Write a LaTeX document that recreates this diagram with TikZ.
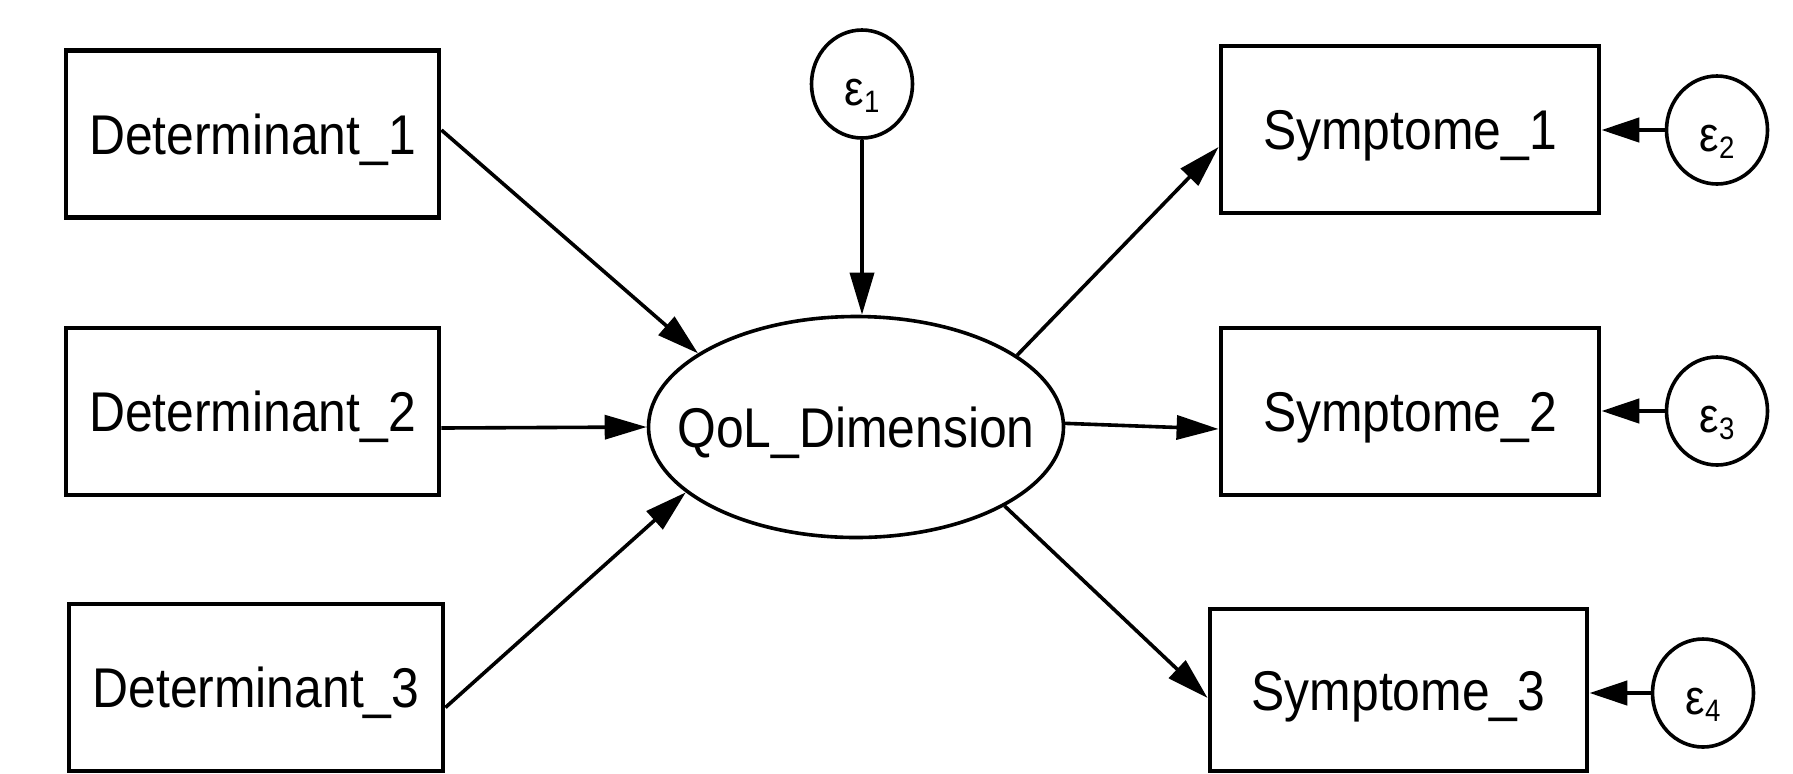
\documentclass[tikz,border=0pt]{standalone}
\usepackage{fontspec}
\setmainfont[FakeStretch=0.89]{Liberation Sans}
\usetikzlibrary{shapes.geometric,arrows.meta,calc}
\newcommand{\eps}[1]{ε\raisebox{-3.5pt}{\fontsize{15.5}{17}\selectfont #1}}
\begin{document}
\begin{tikzpicture}[x=0.5pt,y=-0.5pt,
  obs/.style={draw,line width=2.4pt,minimum width=186.5pt,minimum height=83.5pt,inner sep=0pt,
    font=\fontsize{28}{32}\selectfont,text height=20pt,text depth=0pt},
  lat/.style={draw,ellipse,line width=1.8pt,minimum width=207.5pt,minimum height=110.5pt,inner sep=0pt},
  lattext/.style={font=\fontsize{28}{32}\selectfont,text height=20pt,text depth=0pt,inner sep=0pt},
  err/.style={draw,ellipse,line width=1.8pt,minimum width=50.5pt,minimum height=54pt,inner sep=0pt,
    font=\fontsize{24.5}{26}\selectfont,text height=21pt,text depth=0pt},
  arr/.style={line width=1.8pt,-{Triangle[length=21pt,width=12pt]}},
  earr/.style={line width=2.3pt,-{Triangle[length=19pt,width=12pt]}}]
\useasboundingbox (0,0) rectangle (1793,773);
\node[obs] (det1) at (252.5,134) {Determinant\_1};
\node[obs] (det2) at (252.5,411.5) {Determinant\_2};
\node[obs,minimum width=187pt] (det3) at (256,687.5) {Determinant\_3};
\node[lat,label={[lattext]center:QoL\_Dimension}] (qol) at (856,427) {};
\node[obs,minimum width=189pt] (sym1) at (1410,129.5) {Symptome\_1};
\node[obs,minimum width=189pt] (sym2) at (1410,411.5) {Symptome\_2};
\node[obs,minimum width=188.5pt,minimum height=81pt] (sym3) at (1398.5,690) {Symptome\_3};
\node[err] (e1) at (862,84) {\eps{1}};
\node[err] (e2) at (1717,130) {\eps{2}};
\node[err] (e3) at (1717,411) {\eps{3}};
\node[err] (e4) at (1703,693) {\eps{4}};
\draw[arr] ([yshift=2pt]det1.east) -- (qol.155.6);
\draw[arr] ([yshift=-8.25pt]det2.east) -- (qol.180);
\draw[arr] ([yshift=-10pt]det3.east) -- (qol.201.2);
\draw[arr] (e1.south) -- (qol.north -| e1.south);
\draw[arr] (qol.24.4) -- ([yshift=-8.75pt]sym1.west);
\draw[arr] (qol.1.1) -- ([yshift=-8.75pt]sym2.west);
\draw[arr] (qol.-28.9) -- ([yshift=-4pt]sym3.west);
\draw[earr] (e2.west) -- (sym1.east |- e2.west);
\draw[earr] (e3.west) -- (sym2.east |- e3.west);
\draw[earr] (e4.west) -- (sym3.east |- e4.west);
\end{tikzpicture}
\end{document}
